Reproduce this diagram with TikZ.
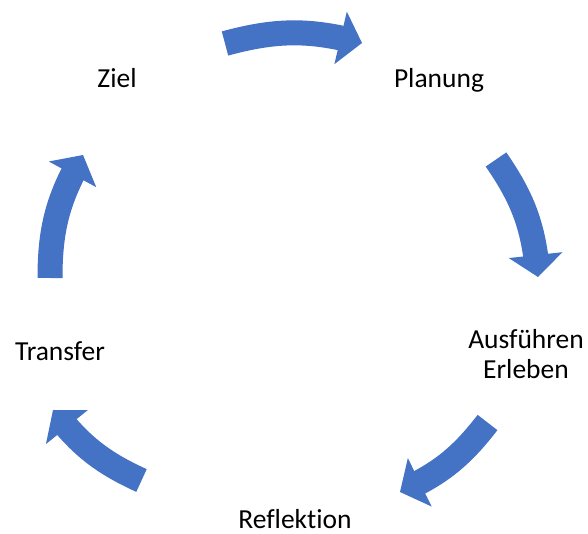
\documentclass[tikz,border=0pt]{standalone}
\usepackage{fontspec}
\setmainfont{Carlito}[Ligatures=NoCommon]
\usepackage{tikz}
\usetikzlibrary{
  arrows.meta,
  bending
}
\definecolor{cycleBlue}{HTML}{4472C4}

\begin{document}
\begin{tikzpicture}[
  x=1pt, y=1pt,
  font=\fontsize{27.5}{30}\selectfont,
  stage/.style={
    inner sep=0pt,
    anchor=base,
    align=center
  },
  cyclearrow/.style={
    line width=25pt,
    draw=cycleBlue,
    -{Triangle[length=22pt,width=54pt,line width'=0pt]}
  }
]
\useasboundingbox (0,0) rectangle (588,533);

% stages of the cycle
\node[stage] (ziel) at (117,445) {Ziel};
\node[stage] (planung) at (439,445) {Planung};
\node[stage] (ausfuehren) at (526,155) {Ausführen\\Erleben};
\node[stage] (reflektion) at (295,5) {Reflektion};
\node[stage] (transfer) at (60,173) {Transfer};

% arrow ends
\coordinate (a1s) at (225,489.5);
\coordinate (a1e) at (362,490);
\coordinate (a2s) at (496,373.5);
\coordinate (a2e) at (538,256);
\coordinate (a3s) at (487.5,110.5);
\coordinate (a3e) at (400,41);
\coordinate (a4s) at (141.5,52.5);
\coordinate (a4e) at (53,123);
\coordinate (a5s) at (50,255);
\coordinate (a5e) at (83,378);

\draw[cyclearrow] (a1s) to[bend left=15] (a1e);
\draw[cyclearrow] (a2s) to[bend left=15] (a2e);
\draw[cyclearrow] (a3s) to[bend left=14] (a3e);
\draw[cyclearrow] (a4s) to[bend left=14] (a4e);
\draw[cyclearrow] (a5s) to[bend left=15] (a5e);

\end{tikzpicture}
\end{document}
